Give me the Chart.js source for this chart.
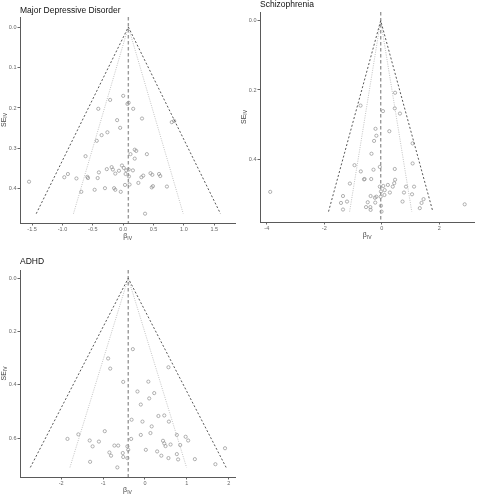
<!DOCTYPE html>
<html>
<head>
<meta charset="utf-8">
<script src="https://cdn.jsdelivr.net/npm/chart.js@4.4.1/dist/chart.umd.min.js"></script>
<style>
  body { margin: 0; background: #fff; width: 479px; height: 504px; position: relative; overflow: hidden; }
  canvas { position: absolute; }
</style>
</head>
<body>
<canvas id="mdd" width="240" height="245" style="left:0;top:0"></canvas>
<canvas id="scz" width="239" height="245" style="left:240px;top:0"></canvas>
<canvas id="adhd" width="240" height="254" style="left:0;top:250px"></canvas>
<script>
// Major Depressive Disorder: per-SNP IV estimates and their standard errors
const mddBeta = [0.00, -0.215, 0.07, 0.09, -0.41, 0.165, -0.10, 0.31, 0.80, 0.84, -0.05, -0.26, -0.355, -0.435,
  0.19, 0.215, 0.12, 0.39, -0.62, 0.19, -0.02, -0.19, -0.27, -0.17, 0.01, -0.07, 0.05, 0.09, 0.16, -0.40, -0.13,
  0.04, -0.91, -0.97, -0.77, -0.59, -0.58, -0.42, 0.095, 0.33, 0.30, 0.45, 0.48, 0.59, 0.61, -1.55, 0.25, 0.105,
  0.03, 0.72, 0.47, 0.49, -0.30, -0.15, -0.13, -0.47, -0.04, -0.69, 0.36];
const mddSe = [0.170, 0.180, 0.190, 0.187, 0.202, 0.202, 0.230, 0.226, 0.235, 0.232, 0.249, 0.260, 0.267, 0.281,
  0.303, 0.306, 0.314, 0.314, 0.319, 0.325, 0.342, 0.346, 0.351, 0.352, 0.348, 0.355, 0.354, 0.352, 0.354, 0.359,
  0.362, 0.363, 0.363, 0.371, 0.374, 0.370, 0.373, 0.373, 0.369, 0.367, 0.371, 0.361, 0.365, 0.363, 0.368, 0.382,
  0.385, 0.389, 0.390, 0.394, 0.396, 0.393, 0.398, 0.398, 0.402, 0.402, 0.407, 0.407, 0.461];
const mddEstimate = 0.085;
const mddXTicks = [-1.5, -1.0, -0.5, 0.0, 0.5, 1.0, 1.5];
const mddYTicks = [0.0, 0.1, 0.2, 0.3, 0.4];

// Schizophrenia
const sczBeta = [0.46, -0.74, 0.04, 0.45, 0.63, -0.22, 0.26, -0.19, -0.27, -0.36, 1.07, -0.95, -0.73, -0.29, -0.07,
  0.45, 1.07, -0.60, -0.62, -0.37, 0.46, -1.11, -0.07, 0.05, 0.21, 0.38, 0.43, 0.84, 1.12, 0.10, -0.03, 0.28, 0.77,
  -3.88, -1.35, -1.21, -1.42, -1.35, -0.39, -0.24, -0.19, -0.04, 0.09, 1.05, 1.45, 0.72, 1.38, 1.32, -0.49, -0.23,
  -0.55, -0.40, -0.39, -0.03, -0.01, 2.88];
const sczSe = [0.208, 0.245, 0.261, 0.253, 0.268, 0.312, 0.319, 0.332, 0.347, 0.384, 0.354, 0.417, 0.435, 0.430,
  0.422, 0.428, 0.412, 0.457, 0.458, 0.457, 0.459, 0.470, 0.479, 0.477, 0.474, 0.479, 0.469, 0.479, 0.479, 0.489,
  0.493, 0.496, 0.496, 0.494, 0.506, 0.522, 0.526, 0.545, 0.506, 0.511, 0.508, 0.508, 0.503, 0.501, 0.515, 0.522,
  0.526, 0.541, 0.524, 0.525, 0.538, 0.538, 0.546, 0.534, 0.551, 0.530];
const sczEstimate = -0.04;
const sczXTicks = [-4, -2, 0, 2];
const sczYTicks = [0.0, 0.2, 0.4];

// ADHD
const adhdBeta = [-0.29, -0.88, -0.83, 0.56, -0.52, 0.08, -0.18, 0.22, 0.10, -0.10, 0.32, 0.46, 0.57, -0.32, -0.06,
  0.16, -0.10, 0.13, -0.96, -1.59, -1.85, -1.32, -1.10, -1.25, -0.73, -0.64, -0.85, -0.81, -0.53, -0.52, -0.42,
  -0.40, -0.33, -1.31, -0.66, -0.42, 0.02, 0.29, 0.39, 0.56, 0.43, 0.46, 0.49, 0.61, 0.76, 0.84, 0.76, 0.79, 0.97,
  1.03, 1.19, 1.68, 1.91];
const adhdSe = [0.266, 0.301, 0.339, 0.334, 0.389, 0.388, 0.425, 0.431, 0.451, 0.474, 0.517, 0.515, 0.538, 0.531,
  0.538, 0.556, 0.588, 0.581, 0.574, 0.586, 0.603, 0.609, 0.613, 0.631, 0.628, 0.628, 0.654, 0.666, 0.656, 0.671,
  0.631, 0.644, 0.603, 0.689, 0.710, 0.675, 0.644, 0.650, 0.666, 0.675, 0.610, 0.620, 0.630, 0.624, 0.588, 0.626,
  0.660, 0.680, 0.595, 0.609, 0.679, 0.698, 0.638];
const adhdEstimate = -0.40;
const adhdXTicks = [-2, -1, 0, 1, 2];
const adhdYTicks = [0.0, 0.2, 0.4, 0.6];

const FONT = '"Liberation Sans", Arial, sans-serif';

// draws "main" with a smaller subscript, centred on x
function drawSub(ctx, main, sub, x, y) {
  ctx.font = `7px ${FONT}`;
  const wm = ctx.measureText(main).width;
  ctx.font = `5px ${FONT}`;
  const ws = ctx.measureText(sub).width;
  const x0 = x - (wm + ws) / 2;
  ctx.font = `7px ${FONT}`;
  ctx.fillText(main, x0, y);
  ctx.font = `5px ${FONT}`;
  ctx.fillText(sub, x0 + wm, y + 2);
}

const panelText = {
  id: 'panelText',
  afterDraw(chart, args, opts) {
    const { ctx, chartArea: a } = chart;
    ctx.save();
    ctx.textBaseline = 'middle';
    ctx.textAlign = 'left';
    ctx.fillStyle = '#111';
    ctx.font = `8.5px ${FONT}`;
    ctx.fillText(opts.title, a.left, opts.titleY);
    ctx.fillStyle = '#444';
    drawSub(ctx, 'β', 'IV', (a.left + a.right) / 2, a.bottom + 13.5);
    ctx.translate(opts.yTitleX, (a.top + a.bottom) / 2);
    ctx.rotate(-Math.PI / 2);
    drawSub(ctx, 'SE', 'IV', 0, 0);
    ctx.restore();
  },
};

function funnel(id, cfg) {
  const seMax = Math.max(...cfg.se);
  const c = cfg.estimate;
  const limit = (z) => [
    { x: c - z * seMax, y: seMax },
    { x: c, y: 0 },
    { x: c + z * seMax, y: seMax },
  ];
  const lineStyle = { type: 'scatter', showLine: true, pointRadius: 0, fill: false };

  new Chart(document.getElementById(id), {
    type: 'scatter',
    data: {
      datasets: [
        { ...lineStyle, data: limit(3.29), borderColor: '#444', borderWidth: 0.9, borderDash: [2, 2] },
        { ...lineStyle, data: limit(1.96), borderColor: '#b4b4b4', borderWidth: 0.8, borderDash: [1, 1.3] },
        {
          ...lineStyle,
          data: [{ x: c, y: cfg.yMin }, { x: c, y: cfg.yMax }],
          borderColor: '#999',
          borderWidth: 1.4,
          borderDash: [3.5, 2.5],
        },
        {
          data: cfg.beta.map((b, i) => ({ x: b, y: cfg.se[i] })),
          pointRadius: 1.6,
          pointBorderWidth: 0.7,
          pointBackgroundColor: 'rgba(0,0,0,0)',
          pointBorderColor: '#909090',
        },
      ],
    },
    options: {
      responsive: false,
      animation: false,
      devicePixelRatio: 1,
      events: [],
      layout: { padding: { top: cfg.padTop, right: cfg.padRight, left: 0, bottom: 0 } },
      plugins: {
        legend: { display: false },
        tooltip: { enabled: false },
        panelText: { title: cfg.title, titleY: cfg.titleY, yTitleX: 4 },
      },
      scales: {
        x: {
          type: 'linear',
          min: cfg.xMin,
          max: cfg.xMax,
          grid: { display: true, drawOnChartArea: false, tickLength: 2.5, tickColor: '#666' },
          border: { display: true, color: '#5a5a5a', width: 1 },
          ticks: { color: '#666', padding: 1, font: { size: 5.5, family: FONT }, callback: (v) => v.toFixed(cfg.xDec) },
          afterBuildTicks: (s) => { s.ticks = cfg.xTicks.map((v) => ({ value: v })); },
          afterFit: (s) => { s.height = cfg.xAxisH; },
        },
        y: {
          type: 'linear',
          reverse: true,
          min: cfg.yMin,
          max: cfg.yMax,
          grid: { display: true, drawOnChartArea: false, tickLength: 2.5, tickColor: '#666' },
          border: { display: true, color: '#5a5a5a', width: 1 },
          ticks: { color: '#666', padding: 1, font: { size: 5.5, family: FONT }, callback: (v) => v.toFixed(1) },
          afterBuildTicks: (s) => { s.ticks = cfg.yTicks.map((v) => ({ value: v })); },
          afterFit: (s) => { s.width = 20; },
        },
      },
    },
    plugins: [panelText],
  });
}

funnel('mdd', {
  title: 'Major Depressive Disorder', titleY: 11,
  beta: mddBeta, se: mddSe, estimate: mddEstimate,
  xTicks: mddXTicks, yTicks: mddYTicks, xDec: 1,
  xMin: -1.699, xMax: 1.846, yMin: -0.0247, yMax: 0.484,
  padTop: 17, padRight: 2, xAxisH: 22,
});

funnel('scz', {
  title: 'Schizophrenia', titleY: 5,
  beta: sczBeta, se: sczSe, estimate: sczEstimate,
  xTicks: sczXTicks, yTicks: sczYTicks, xDec: 0,
  xMin: -4.235, xMax: 3.214, yMin: -0.0251, yMax: 0.581,
  padTop: 12, padRight: 1, xAxisH: 23,
});

funnel('adhd', {
  title: 'ADHD', titleY: 12,
  beta: adhdBeta, se: adhdSe, estimate: adhdEstimate,
  xTicks: adhdXTicks, yTicks: adhdYTicks, xDec: 0,
  xMin: -2.983, xMax: 2.148, yMin: -0.0311, yMax: 0.746,
  padTop: 20, padRight: 5, xAxisH: 27,
});
</script>
</body>
</html>
